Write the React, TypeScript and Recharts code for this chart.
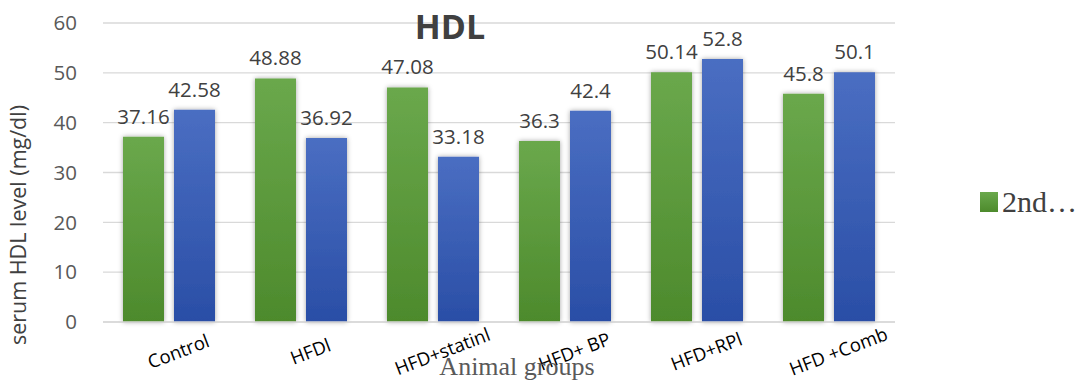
import { BarChart, Bar, XAxis, YAxis, CartesianGrid, LabelList, Label } from "recharts";

// Serum HDL (mg/dl) per animal group, two measurement points
const groups = ["Control", "HFDl", "HFD+statinl", "HFD+ BP", "HFD+RPl", "HFD +Comb"];
const second = [37.16, 48.88, 47.08, 36.3, 50.14, 45.8];
const later = [42.58, 36.92, 33.18, 42.4, 52.8, 50.1];
const yTicks = [0, 10, 20, 30, 40, 50, 60];

const data = groups.map((g, i) => ({ group: g, second: second[i], later: later[i] }));

const TEXT = "#404040";
const AXIS_TEXT = "#595959";
const GRID = "#d9d9d9";

function GroupTick(props: any) {
  const { x, y, payload } = props;
  return (
    <g transform={`translate(${x + 10},${y + 23})`}>
      <text
        textAnchor="middle"
        dominantBaseline="middle"
        transform="rotate(-21)"
        fontFamily="Open Sans"
        fontSize={18.5}
        fill="#000"
      >
        {payload.value}
      </text>
    </g>
  );
}

export default function App() {
  return (
    <div style={{ position: "absolute", left: 0, top: 0, width: 1084, height: 383, background: "#fff" }}>
      <BarChart
        width={1084}
        height={383}
        data={data}
        margin={{ top: 23, right: 189, bottom: 0, left: 0 }}
        barCategoryGap={20}
        barGap={10}
      >
        <defs>
          <linearGradient id="greenFill" x1="0" y1="0" x2="0" y2="1">
            <stop offset="0%" stopColor="#6aa84c" />
            <stop offset="100%" stopColor="#4d8a2c" />
          </linearGradient>
          <linearGradient id="blueFill" x1="0" y1="0" x2="0" y2="1">
            <stop offset="0%" stopColor="#4a6ec2" />
            <stop offset="100%" stopColor="#2a4ea6" />
          </linearGradient>
          <filter id="barShadow" x="-30%" y="-10%" width="160%" height="120%">
            <feDropShadow dx="0" dy="0" stdDeviation="2.5" floodColor="#000" floodOpacity="0.35" />
          </filter>
        </defs>
        <CartesianGrid vertical={false} stroke={GRID} strokeWidth={1.3} />
        <XAxis
          dataKey="group"
          stroke={GRID}
          strokeWidth={1.3}
          tickLine={false}
          interval={0}
          tick={<GroupTick />}
          height={61}
        >
          <Label
            value="Animal groups"
            position="insideBottom"
            offset={8}
            dx={18}
            fontFamily="Liberation Serif"
            fontSize={26}
            fill={AXIS_TEXT}
          />
        </XAxis>
        <YAxis
          width={103}
          domain={[0, 60]}
          ticks={yTicks}
          axisLine={false}
          tickLine={false}
          tickMargin={20}
          tick={{ fontFamily: "Open Sans", fontSize: 20.5, fill: AXIS_TEXT }}
        />
        <Bar dataKey="second" name="2nd…" fill="url(#greenFill)" filter="url(#barShadow)" isAnimationActive={false}>
          <LabelList dataKey="second" position="top" offset={13} fontFamily="Open Sans" fontSize={20.5} fill={TEXT} />
        </Bar>
        <Bar dataKey="later" fill="url(#blueFill)" filter="url(#barShadow)" isAnimationActive={false}>
          <LabelList dataKey="later" position="top" offset={13} fontFamily="Open Sans" fontSize={20.5} fill={TEXT} />
        </Bar>
        <text
          x={26}
          y={225}
          transform="rotate(-90, 26, 225)"
          textAnchor="middle"
          fontFamily="Open Sans"
          fontSize={21.5}
          fill={TEXT}
        >
          serum HDL level (mg/dl)
        </text>
        <text x={450} y={39} textAnchor="middle" fontFamily="Open Sans" fontWeight="bold" fontSize={34} fill={TEXT}>
          HDL
        </text>
      </BarChart>
      <div
        style={{
          position: "absolute",
          left: 980,
          top: 185,
          display: "flex",
          alignItems: "center",
          fontFamily: "Liberation Serif",
          fontSize: 30,
          color: TEXT,
        }}
      >
        <span style={{ display: "inline-block", width: 18, height: 20, background: "linear-gradient(#6aa84c, #4d8a2c)", marginRight: 4 }} />
        2nd…
      </div>
    </div>
  );
}
